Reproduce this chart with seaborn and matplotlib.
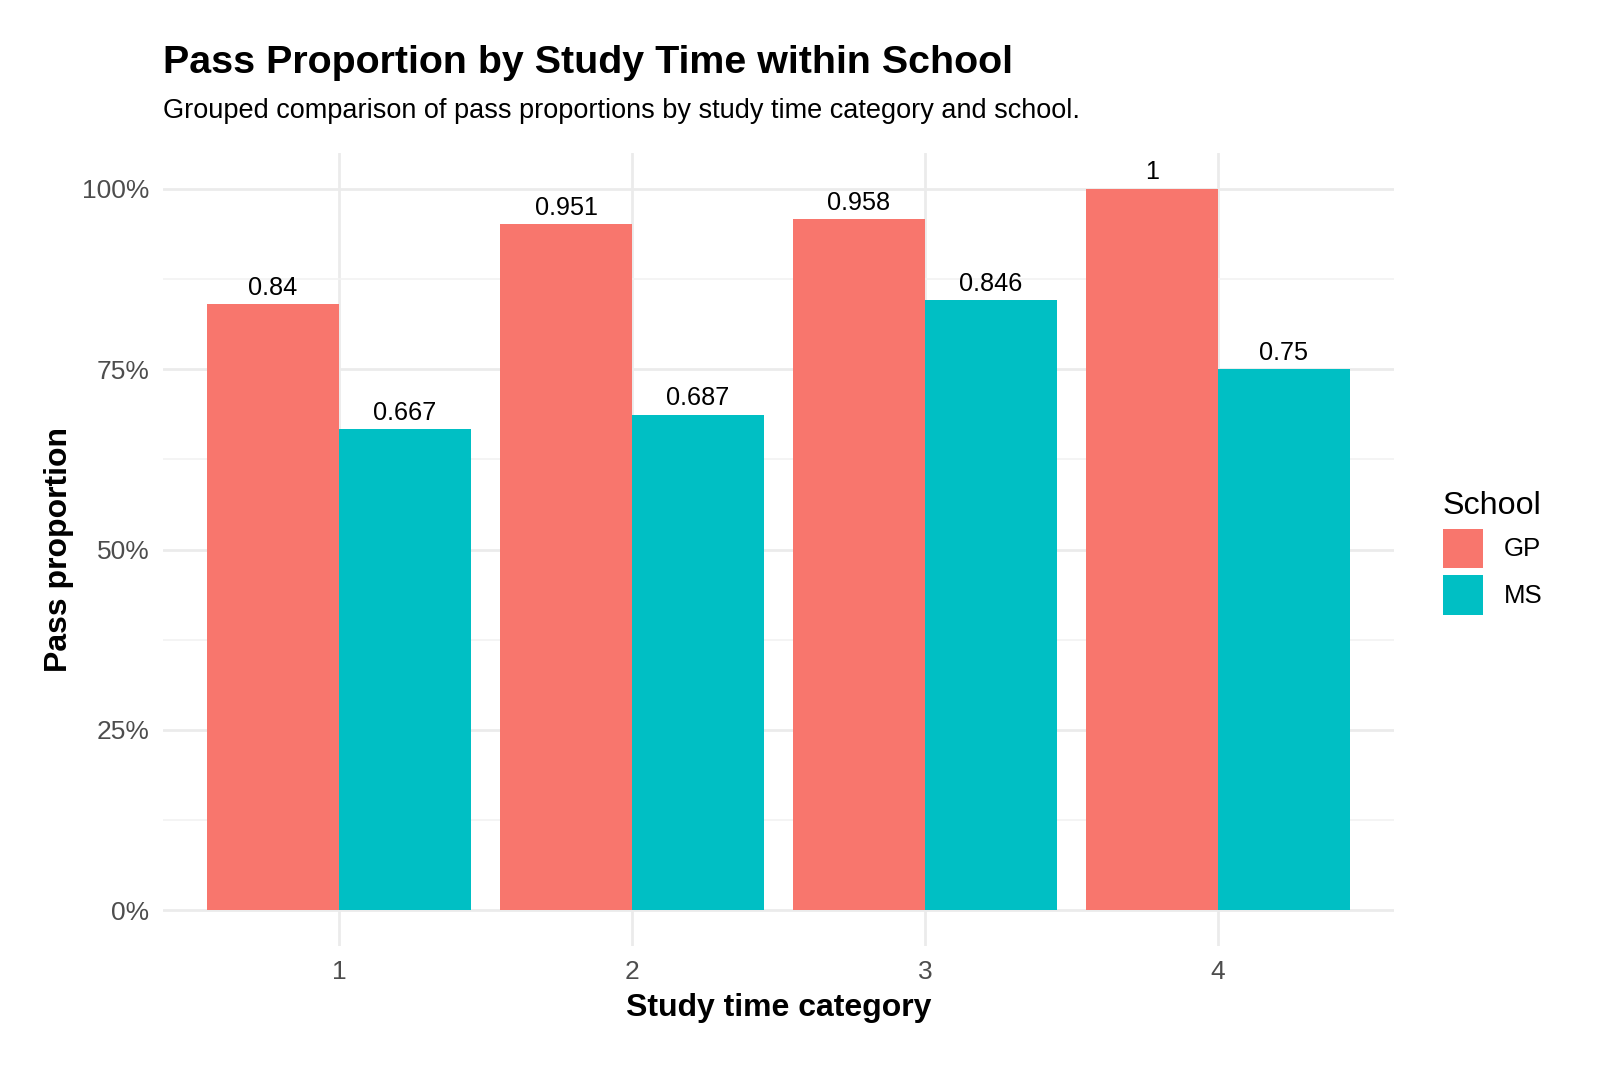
import pandas as pd
import matplotlib
matplotlib.use("Agg")
import matplotlib.pyplot as plt
import seaborn as sns
from matplotlib.ticker import FuncFormatter, MultipleLocator

study_time = ["1", "2", "3", "4"]
gp_pass = [0.84, 0.951, 0.958, 1.0]
ms_pass = [0.667, 0.687, 0.846, 0.75]
schools = ["GP", "MS"]
colors = ["#F8766D", "#00BFC4"]

df = pd.DataFrame({
    "studytime": study_time * 2,
    "school": ["GP"] * 4 + ["MS"] * 4,
    "pass_prop": gp_pass + ms_pass,
})

sns.set_theme(style="white")
plt.rcParams["font.family"] = ["Liberation Sans", "DejaVu Sans"]
plt.rcParams["text.color"] = "black"
plt.rcParams["axes.labelcolor"] = "black"

fig = plt.figure(figsize=(8, 5.335), dpi=200)
ax = fig.add_axes([0.102, 0.113, 0.769, 0.744])

sns.barplot(data=df, x="studytime", y="pass_prop", hue="school", order=study_time,
            hue_order=schools, palette=colors, width=0.9, saturation=1, ax=ax,
            errorbar=None, linewidth=0, zorder=3)

for cont in ax.containers:
    ax.bar_label(cont, labels=[f"{round(b.get_height(), 3):g}" for b in cont],
                 padding=1.5, fontsize=9.1, color="black")

ax.set_xlim(-0.6, 3.6)
ax.set_ylim(-0.05, 1.05)
ax.yaxis.set_major_locator(MultipleLocator(0.25))
ax.yaxis.set_minor_locator(MultipleLocator(0.125))
ax.yaxis.set_major_formatter(FuncFormatter(lambda v, p: f"{v*100:.0f}%"))
ax.grid(True, which="major", color="#EBEBEB", linewidth=1.0, zorder=0)
ax.grid(True, which="minor", axis="y", color="#F2F2F2", linewidth=0.6, zorder=0)
ax.set_axisbelow(True)
for s in ax.spines.values():
    s.set_visible(False)
ax.tick_params(axis="both", which="both", length=0, labelsize=9.5, labelcolor="#4D4D4D")
ax.tick_params(axis="y", pad=5)
ax.tick_params(axis="x", pad=5)

ax.set_xlabel("Study time category", fontsize=11.5, fontweight="bold", labelpad=3)
ax.set_ylabel("Pass proportion", fontsize=11.5, fontweight="bold", labelpad=3)

fig.text(0.102, 0.932, "Pass Proportion by Study Time within School",
         fontsize=14.2, fontweight="bold", va="baseline", ha="left")
fig.text(0.102, 0.889, "Grouped comparison of pass proportions by study time category and school.",
         fontsize=9.75, va="baseline", ha="left")

handles, labels = ax.get_legend_handles_labels()
ax.legend(handles, labels, title="School", loc="center left", bbox_to_anchor=(1.021, 0.496),
          frameon=False, fontsize=9.3, title_fontsize=11.6, handlelength=1.55, handleheight=1.95,
          labelspacing=0.3, handletextpad=0.8, alignment="left")

fig.savefig("out.png", dpi=200)
